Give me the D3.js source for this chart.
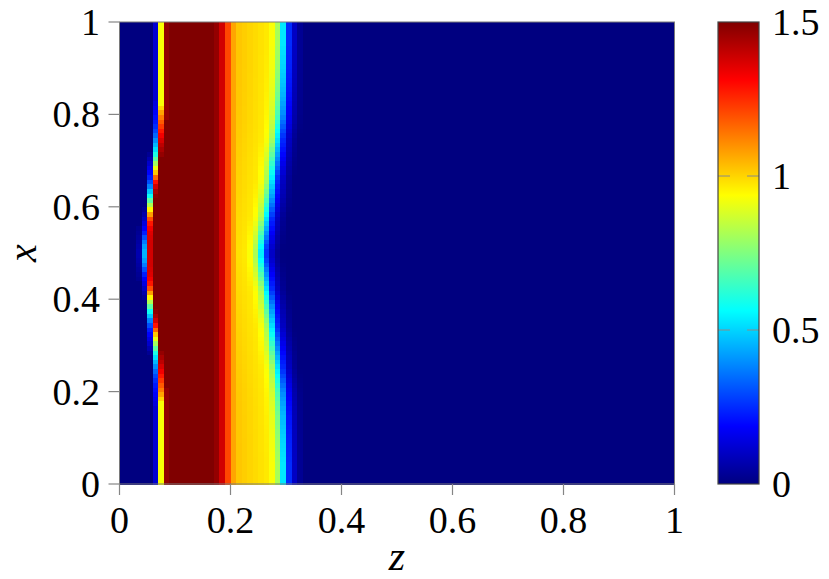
<!DOCTYPE html>
<html>
<head>
<meta charset="utf-8">
<script src="https://cdn.jsdelivr.net/npm/d3@7"></script>
<style>
  html, body { margin: 0; padding: 0; background: #ffffff; }
  svg { display: block; }
  text { font-family: "Liberation Serif", "Times New Roman", serif; fill: #000; }
</style>
</head>
<body>
<svg id="chart" width="829" height="579"></svg>
<script>
// ---------------- DATA ----------------
// grid size: 100 cells along z, 100 cells along x
const nZ = 100;
const nX = 100;

// axis tick labels
const zTicks = [0, 0.2, 0.4, 0.6, 0.8, 1];
const xTicks = [0, 0.2, 0.4, 0.6, 0.8, 1];
const cbTicks = [0, 0.5, 1, 1.5];
const cbTickLabels = ["0", "0.5", "1", "1.5"];

// value of each z-column along the top edge (x = 1)
const zProfile = [
  0, 0, 0, 0, 0, 0, 0.12, 0.93, 1.47, 1.5,
  1.5, 1.5, 1.5, 1.5, 1.5, 1.5, 1.5, 1.47, 1.38, 1.21,
  1.07, 1.02, 1.01, 1.0, 0.99, 0.98, 0.97, 0.93, 0.81, 0.53,
  0.25, 0.1, 0.03, 0, 0, 0, 0, 0, 0, 0,
  0, 0, 0, 0, 0, 0, 0, 0, 0, 0,
  0, 0, 0, 0, 0, 0, 0, 0, 0, 0,
  0, 0, 0, 0, 0, 0, 0, 0, 0, 0,
  0, 0, 0, 0, 0, 0, 0, 0, 0, 0,
  0, 0, 0, 0, 0, 0, 0, 0, 0, 0,
  0, 0, 0, 0, 0, 0, 0, 0, 0, 0
];

// left front: values of columns 3..8, for the 50 rows from x = 1 down to x = 0.5
// (the field is mirror-symmetric about x = 0.5)
const leftFrontCols = [3, 4, 5, 6, 7, 8];
const leftCol3 = [
  0,0,0,0,0,0,0,0,0,0, 0,0,0,0,0,0,0,0,0,0,
  0,0,0,0,0,0,0,0,0,0, 0,0,0,0,0,0,0,0,0,0,
  0,0,0,0,0.02,0.03,0.04,0.05,0.06,0.07
];
const leftCol4 = [
  0,0,0,0,0,0,0,0,0,0, 0,0,0,0,0,0,0,0,0,0,
  0,0,0,0,0,0,0,0,0,0, 0,0,0,0,0,0,0,0,0,0,
  0.03,0.06,0.1,0.14,0.18,0.23,0.3,0.37,0.42,0.45
];
const leftCol5 = [
  0,0,0,0,0,0,0,0,0,0, 0,0,0,0,0,0,0,0,0,0,
  0,0,0,0,0,0,0,0,0.03,0.07, 0.11,0.15,0.19,0.23,0.3,0.38,0.48,0.58,0.7,0.82,
  0.95,1.08,1.2,1.28,1.33,1.36,1.37,1.38,1.38,1.38
];
const leftCol6 = [
  0.12,0.12,0.12,0.12,0.12,0.12,0.12,0.12,0.12,0.12,
  0.12,0.12,0.12,0.12,0.12,0.12,0.12,0.14,0.16,0.18,
  0.2,0.22,0.25,0.29,0.34,0.4,0.46,0.52,0.6,0.7,
  0.8,0.91,1.02,1.16,1.29,1.38,1.44,1.48,1.5,1.5,
  1.5,1.5,1.5,1.5,1.5,1.5,1.5,1.5,1.5,1.5
];
const leftCol7 = [
  0.93,0.93,0.93,0.93,0.93,0.93,0.93,0.93,0.93,0.93,
  0.93,0.93,0.93,0.93,0.93,0.93,0.93,0.93,1.0,1.07,
  1.13,1.18,1.23,1.28,1.33,1.37,1.41,1.44,1.47,1.5,
  1.5,1.5,1.5,1.5,1.5,1.5,1.5,1.5,1.5,1.5,
  1.5,1.5,1.5,1.5,1.5,1.5,1.5,1.5,1.5,1.5
];
const leftCol8 = [
  1.47,1.47,1.47,1.47,1.47,1.47,1.47,1.47,1.47,1.47,
  1.47,1.47,1.47,1.47,1.47,1.47,1.47,1.47,1.47,1.47,
  1.47,1.5,1.5,1.5,1.5,1.5,1.5,1.5,1.5,1.5,
  1.5,1.5,1.5,1.5,1.5,1.5,1.5,1.5,1.5,1.5,
  1.5,1.5,1.5,1.5,1.5,1.5,1.5,1.5,1.5,1.5
];

// right front: how many columns the right edge (from column 21 on) has moved
// toward z = 0, for the 50 rows from x = 1 down to x = 0.5
const rightFrontStart = 21;
const rightShift = [
  0,0,0,0,0,0.02,0.04,0.06,0.08,0.1,
  0.12,0.15,0.18,0.21,0.24,0.28,0.32,0.37,0.42,0.48,
  0.55,0.65,0.75,0.85,0.95,1.05,1.15,1.27,1.38,1.5,
  1.61,1.72,1.83,1.94,2.05,2.16,2.27,2.38,2.5,2.63,
  2.76,2.9,3.04,3.18,3.32,3.46,3.6,3.75,3.88,3.97
];

// colour map (pgfplots "jet") over the colour bar range
const cMin = 0, cMax = 1.5;
const jetColors = ["#000080", "#0000ff", "#00ffff", "#ffff00", "#ff0000", "#800000"];
const jetStops = [0, 1/8, 3/8, 5/8, 7/8, 1];

// ---------------- BUILD GRID ----------------
const leftVals = { 3: leftCol3, 4: leftCol4, 5: leftCol5, 6: leftCol6, 7: leftCol7, 8: leftCol8 };

function sampleProfile(p) {
  const i0 = Math.floor(p);
  const f = p - i0;
  const a = zProfile[Math.min(i0, nZ - 1)];
  const b = zProfile[Math.min(i0 + 1, nZ - 1)];
  return a + (b - a) * f;
}

const cells = [];
for (let j = 0; j < nX; j++) {          // j = row index from x = 0 upward
  const fromTop = nX - 1 - j;
  const r = fromTop < nX / 2 ? fromTop : nX - 1 - fromTop;
  for (let i = 0; i < nZ; i++) {
    let v;
    if (leftFrontCols.includes(i)) v = leftVals[i][r];
    else if (i >= rightFrontStart) v = sampleProfile(i + rightShift[r]);
    else v = zProfile[i];
    cells.push({ z0: i / nZ, z1: (i + 1) / nZ, x0: j / nX, x1: (j + 1) / nX, v });
  }
}

// ---------------- DRAW ----------------
const svg = d3.select("#chart");
const plot = { left: 119.5, right: 674.5, top: 22, bottom: 484 };
const cb = { left: 718, right: 759 };

const zScale = d3.scaleLinear().domain([0, 1]).range([plot.left, plot.right]);
const xScale = d3.scaleLinear().domain([0, 1]).range([plot.bottom, plot.top]);
const cScale = d3.scaleLinear().domain([cMin, cMax]).range([plot.bottom, plot.top]);
const jet = d3.scaleLinear()
  .domain(jetStops.map(s => cMin + s * (cMax - cMin)))
  .range(jetColors)
  .interpolate(d3.interpolateRgb)
  .clamp(true);

// heat map cells
svg.append("g")
  .attr("shape-rendering", "crispEdges")
  .selectAll("rect")
  .data(cells)
  .join("rect")
  .attr("x", d => zScale(d.z0))
  .attr("y", d => xScale(d.x1))
  .attr("width", d => zScale(d.z1) - zScale(d.z0) + 0.6)
  .attr("height", d => xScale(d.x0) - xScale(d.x1) + 0.6)
  .attr("fill", d => jet(d.v));

// frame
svg.append("rect")
  .attr("x", plot.left).attr("y", plot.top)
  .attr("width", plot.right - plot.left).attr("height", plot.bottom - plot.top)
  .attr("fill", "none").attr("stroke", "#7a7a7a").attr("stroke-width", 1);

const tickColor = "#858585";
const tickLen = 11;
const fontSize = 38;

// bottom axis (z)
const zAxis = svg.append("g");
zAxis.selectAll("line").data(zTicks).join("line")
  .attr("x1", d => zScale(d)).attr("x2", d => zScale(d))
  .attr("y1", plot.bottom).attr("y2", plot.bottom + tickLen)
  .attr("stroke", tickColor).attr("stroke-width", 1.2);
zAxis.selectAll("text").data(zTicks).join("text")
  .attr("x", d => zScale(d)).attr("y", 533)
  .attr("text-anchor", "middle").attr("font-size", fontSize)
  .text(d => d3.format("~g")(d));

// left axis (x)
const xAxis = svg.append("g");
xAxis.selectAll("line").data(xTicks).join("line")
  .attr("x1", plot.left - tickLen).attr("x2", plot.left)
  .attr("y1", d => xScale(d)).attr("y2", d => xScale(d))
  .attr("stroke", tickColor).attr("stroke-width", 1.2);
xAxis.selectAll("text").data(xTicks).join("text")
  .attr("x", 100).attr("y", d => xScale(d) + 13)
  .attr("text-anchor", "end").attr("font-size", fontSize)
  .text(d => d3.format("~g")(d));

// axis labels
svg.append("text")
  .attr("x", (plot.left + plot.right) / 2).attr("y", 570)
  .attr("text-anchor", "middle").attr("font-size", 42)
  .attr("font-style", "italic").text("z");
svg.append("text")
  .attr("transform", `translate(36, ${(plot.top + plot.bottom) / 2}) rotate(-90)`)
  .attr("text-anchor", "middle").attr("font-size", 40)
  .attr("font-style", "italic").text("x");

// colour bar
const defs = svg.append("defs");
const grad = defs.append("linearGradient")
  .attr("id", "jetGrad").attr("x1", 0).attr("y1", 1).attr("x2", 0).attr("y2", 0);
grad.selectAll("stop").data(jetStops).join("stop")
  .attr("offset", d => d)
  .attr("stop-color", (d, i) => jetColors[i]);

svg.append("rect")
  .attr("x", cb.left).attr("y", cScale(cMax))
  .attr("width", cb.right - cb.left).attr("height", cScale(cMin) - cScale(cMax))
  .attr("fill", "url(#jetGrad)");

const cbG = svg.append("g");
cbG.selectAll("line.l").data(cbTicks.filter(d => d > cMin && d < cMax)).join("line")
  .attr("class", "l")
  .attr("x1", cb.left).attr("x2", cb.left + 12)
  .attr("y1", d => cScale(d)).attr("y2", d => cScale(d))
  .attr("stroke", "#8a8a8a").attr("stroke-width", 1);
cbG.selectAll("line.r").data(cbTicks.filter(d => d > cMin && d < cMax)).join("line")
  .attr("class", "r")
  .attr("x1", cb.right - 12).attr("x2", cb.right)
  .attr("y1", d => cScale(d)).attr("y2", d => cScale(d))
  .attr("stroke", "#8a8a8a").attr("stroke-width", 1);
cbG.selectAll("text").data(cbTicks).join("text")
  .attr("x", cb.right + 13).attr("y", d => cScale(d) + 13)
  .attr("font-size", fontSize)
  .text((d, i) => cbTickLabels[i]);

svg.append("rect")
  .attr("x", cb.left).attr("y", cScale(cMax))
  .attr("width", cb.right - cb.left).attr("height", cScale(cMin) - cScale(cMax))
  .attr("fill", "none").attr("stroke", "#444").attr("stroke-width", 1.2);
</script>
</body>
</html>
